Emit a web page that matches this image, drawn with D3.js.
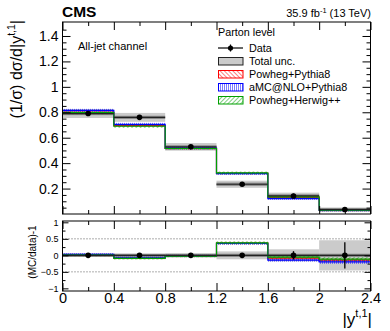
<!DOCTYPE html>
<html>
<head>
<meta charset="utf-8">
<script src="https://cdn.jsdelivr.net/npm/d3@7"></script>
<style>
  body { margin: 0; background: #fff; }
  svg { display: block; font-family: "Liberation Sans", Arial, Helvetica, sans-serif; }
</style>
</head>
<body>
<svg id="mainSVG" width="390" height="331"></svg>
<script>
// bins of |y^{t,1}|
const binEdges = [0, 0.4, 0.8, 1.2, 1.6, 2.0, 2.4];
const dataVals = [0.790, 0.760, 0.528, 0.234, 0.142, 0.035];
const statUnc  = [0.012, 0.014, 0.010, 0.009, 0.018, 0.014];
const totUnc   = [0.035, 0.035, 0.030, 0.028, 0.026, 0.016];

const powhegPythia = [0.800, 0.695, 0.515, 0.320, 0.130, 0.030];
const amcPythia    = [0.815, 0.705, 0.518, 0.318, 0.121, 0.028];
const powhegHerwig = [0.797, 0.690, 0.515, 0.323, 0.134, 0.031];
const mcUnc        = [0.004, 0.004, 0.003, 0.003, 0.002, 0.001];

const xTicks = [0, 0.4, 0.8, 1.2, 1.6, 2.0, 2.4];
const yTicks = [0.2, 0.4, 0.6, 0.8, 1.0, 1.2, 1.4];
const rTicks = [-1, -0.5, 0, 0.5, 1];

const legendLabels = ["Data", "Total unc.", "Powheg+Pythia8", "aMC@NLO+Pythia8", "Powheg+Herwig++"];

const svg = d3.select("#mainSVG");
const L = 62.5, R = 370.5;
const mainTop = 22, mainBot = 214, ratTop = 221, ratBot = 291;

const x = d3.scaleLinear().domain([0, 2.4]).range([L, R]);
const y = d3.scaleLinear().domain([0, 1.51]).range([mainBot, mainTop]);
const yr = d3.scaleLinear().domain([-1.08, 1.04]).range([ratBot, ratTop]);

const bins = dataVals.map((d, i) => ({lo: binEdges[i], hi: binEdges[i + 1], i: i}));

// hatch patterns
const defs = svg.append("defs");
function hatch(id, color, angle, gap) {
    const p = defs.append("pattern").attr("id", id).attr("patternUnits", "userSpaceOnUse")
        .attr("width", gap).attr("height", gap).attr("patternTransform", "rotate(" + angle + ")");
    p.append("line").attr("x1", 0).attr("y1", 0).attr("x2", 0).attr("y2", gap)
        .attr("stroke", color).attr("stroke-width", 1);
}
hatch("hRed", "#ff0000", -45, 3);
hatch("hBlue", "#0000ff", 0, 2);
hatch("hGreen", "#00a000", 45, 3);

const models = [
    {vals: powhegPythia, color: "#ff0000", pat: "hRed"},
    {vals: amcPythia, color: "#0000ff", pat: "hBlue"},
    {vals: powhegHerwig, color: "#00a000", pat: "hGreen"}
];

function stepPoints(vals) {
    const pts = [];
    vals.forEach((v, i) => { pts.push([binEdges[i], v]); pts.push([binEdges[i + 1], v]); });
    return pts;
}

function drawPanel(g, ys, getData, getTot, getStat, getModel, modelUnc) {
    // total uncertainty band
    g.selectAll(".tot").data(bins).join("rect")
        .attr("x", d => x(d.lo)).attr("width", d => x(d.hi) - x(d.lo))
        .attr("y", d => ys(getData(d.i) + getTot(d.i)))
        .attr("height", d => ys(getData(d.i) - getTot(d.i)) - ys(getData(d.i) + getTot(d.i)))
        .attr("fill", "#cbcbcb");
    // darker band hugging the data line
    g.selectAll(".stat").data(bins).join("rect")
        .attr("x", d => x(d.lo)).attr("width", d => x(d.hi) - x(d.lo))
        .attr("y", d => ys(getData(d.i)) - 1.6).attr("height", 3.2)
        .attr("fill", "#888");

    // MC bands and lines
    models.forEach(m => {
        const vals = dataVals.map((d, i) => getModel(m.vals, i));
        g.append("g").selectAll("rect").data(bins).join("rect")
            .attr("x", d => x(d.lo)).attr("width", d => x(d.hi) - x(d.lo))
            .attr("y", d => ys(vals[d.i] + modelUnc(m.vals, d.i)) - 1)
            .attr("height", d => ys(vals[d.i] - modelUnc(m.vals, d.i)) - ys(vals[d.i] + modelUnc(m.vals, d.i)) + 2)
            .attr("fill", "url(#" + m.pat + ")");
        g.append("path").datum(stepPoints(vals))
            .attr("d", d3.line().x(p => x(p[0])).y(p => ys(p[1])))
            .attr("fill", "none").attr("stroke", m.color).attr("stroke-width", 1.2);
    });

    // data line, error bars, markers
    g.selectAll(".dl").data(bins).join("line")
        .attr("x1", d => x(d.lo)).attr("x2", d => x(d.hi))
        .attr("y1", d => ys(getData(d.i))).attr("y2", d => ys(getData(d.i)))
        .attr("stroke", "#222").attr("stroke-width", 1.2);
    g.selectAll(".eb").data(bins).join("line")
        .attr("x1", d => x((d.lo + d.hi) / 2)).attr("x2", d => x((d.lo + d.hi) / 2))
        .attr("y1", d => ys(getData(d.i) + getStat(d.i))).attr("y2", d => ys(getData(d.i) - getStat(d.i)))
        .attr("stroke", "#000").attr("stroke-width", 1.3);
    g.selectAll("circle").data(bins).join("circle")
        .attr("cx", d => x((d.lo + d.hi) / 2)).attr("cy", d => ys(getData(d.i)))
        .attr("r", 2.8).attr("fill", "#000");
}

// main panel
const gMain = svg.append("g");
drawPanel(gMain, y,
    i => dataVals[i], i => totUnc[i], i => statUnc[i],
    (vals, i) => vals[i], (vals, i) => mcUnc[i]);

// ratio panel
const gRat = svg.append("g");
gRat.selectAll(".grid").data([-0.5, 0.5]).join("line")
    .attr("x1", L).attr("x2", R).attr("y1", d => yr(d)).attr("y2", d => yr(d))
    .attr("stroke", "#333").attr("stroke-width", 0.8).attr("stroke-dasharray", "1,2");
drawPanel(gRat, yr,
    i => 0, i => totUnc[i] / dataVals[i], i => statUnc[i] / dataVals[i],
    (vals, i) => vals[i] / dataVals[i] - 1, (vals, i) => mcUnc[i] / dataVals[i]);

// frames and ticks
function frame(top, bot) {
    svg.append("rect").attr("x", L).attr("y", top).attr("width", R - L).attr("height", bot - top)
        .attr("fill", "none").attr("stroke", "#000").attr("stroke-width", 1);
}
frame(mainTop, mainBot);
frame(ratTop, ratBot);

function xAxes(top, bot, showLabels) {
    const minor = d3.range(0.2, 2.4, 0.4);
    svg.append("g").attr("transform", `translate(0,${bot})`)
        .call(d3.axisBottom(x).tickValues(minor).tickSize(-4).tickFormat(""));
    svg.append("g").attr("transform", `translate(0,${top})`)
        .call(d3.axisTop(x).tickValues(minor).tickSize(-4).tickFormat(""));
    svg.append("g").attr("transform", `translate(0,${top})`)
        .call(d3.axisTop(x).tickValues(xTicks).tickSize(-8).tickFormat(""));
    const ax = svg.append("g").attr("class", "xlab").attr("transform", `translate(0,${bot})`)
        .call(d3.axisBottom(x).tickValues(xTicks).tickSize(-8).tickPadding(2)
            .tickFormat(showLabels ? d => d3.format("")(+d.toFixed(1)) : ""));
    ax.selectAll("text").attr("font-size", 14.5).attr("fill", "#000").attr("font-family", null);
}
xAxes(mainTop, mainBot, false);
xAxes(ratTop, ratBot, true);

function yAxes(ys, major, minor, majLen, minLen, fmt, fs) {
    svg.append("g").attr("transform", `translate(${L},0)`)
        .call(d3.axisLeft(ys).tickValues(minor).tickSize(-minLen).tickFormat(""));
    svg.append("g").attr("transform", `translate(${R},0)`)
        .call(d3.axisRight(ys).tickValues(minor).tickSize(-minLen).tickFormat(""));
    svg.append("g").attr("transform", `translate(${R},0)`)
        .call(d3.axisRight(ys).tickValues(major).tickSize(-majLen).tickFormat(""));
    const ax = svg.append("g").attr("transform", `translate(${L},0)`)
        .call(d3.axisLeft(ys).tickValues(major).tickSize(-majLen).tickPadding(4).tickFormat(fmt));
    ax.selectAll("text").attr("font-size", fs).attr("fill", "#000").attr("font-family", null);
}
yAxes(y, yTicks, d3.range(0.05, 1.5, 0.05).filter(v => Math.abs(v * 5 - Math.round(v * 5)) > 1e-6),
    8, 4, d => d3.format("")(+d.toFixed(1)), 14);
yAxes(yr, rTicks, [-0.75, -0.25, 0.25, 0.75], 6, 3, d => (d < 0 ? "\u2212" : "") + Math.abs(d), 9);

svg.selectAll(".domain").remove();
svg.selectAll(".tick line").attr("stroke", "#000");

// texts
svg.append("text").attr("x", 62).attr("y", 17).attr("font-size", 15.5).attr("font-weight", "bold").text("CMS");
const lumi = svg.append("text").attr("x", 371).attr("y", 17).attr("text-anchor", "end").attr("font-size", 11);
lumi.append("tspan").text("35.9 fb");
lumi.append("tspan").attr("font-size", 7.5).attr("dy", -4).text("-1");
lumi.append("tspan").attr("dy", 4).text(" (13 TeV)");

svg.append("text").attr("x", 78).attr("y", 50).attr("font-size", 11).text("All-jet channel");

const yl = svg.append("text").attr("transform", "translate(22,20) rotate(-90)")
    .attr("text-anchor", "end").attr("font-size", 16);
yl.append("tspan").text("(1/\u03c3) d\u03c3/d|y");
yl.append("tspan").attr("font-size", 10.5).attr("dy", -7).text("t,1");
yl.append("tspan").attr("dy", 7).text("|");

svg.append("text").attr("transform", "translate(36,252) rotate(-90)")
    .attr("text-anchor", "middle").attr("font-size", 10).text("(MC/data)-1");

const xl = svg.append("text").attr("x", 372).attr("y", 325).attr("text-anchor", "end").attr("font-size", 17);
xl.append("tspan").text("|y");
xl.append("tspan").attr("font-size", 11).attr("dy", -8).text("t,1");
xl.append("tspan").attr("dy", 8).text("|");

// legend
const lg = svg.append("g").attr("font-size", 10.8);
lg.append("text").attr("x", 218).attr("y", 36).text("Parton level");
const rowY = [48, 61, 74, 87, 100];
legendLabels.forEach((lab, i) => {
    lg.append("text").attr("x", 249).attr("y", rowY[i] + 3.8).text(lab);
});
// data entry
lg.append("line").attr("x1", 218).attr("x2", 243).attr("y1", rowY[0]).attr("y2", rowY[0]).attr("stroke", "#000").attr("stroke-width", 1.2);
lg.append("line").attr("x1", 230.5).attr("x2", 230.5).attr("y1", rowY[0] - 3.5).attr("y2", rowY[0] + 3.5).attr("stroke", "#000").attr("stroke-width", 1.2);
lg.append("circle").attr("cx", 230.5).attr("cy", rowY[0]).attr("r", 2.6).attr("fill", "#000");
// box entries
const boxes = [{fill: "#cbcbcb", stroke: "#222"}].concat(models.map(m => ({fill: "url(#" + m.pat + ")", stroke: m.color})));
boxes.forEach((b, i) => {
    lg.append("rect").attr("x", 218.5).attr("y", rowY[i + 1] - 3.5).attr("width", 24.5).attr("height", 7.5)
        .attr("fill", b.fill).attr("stroke", b.stroke).attr("stroke-width", 1);
});
</script>
</body>
</html>
